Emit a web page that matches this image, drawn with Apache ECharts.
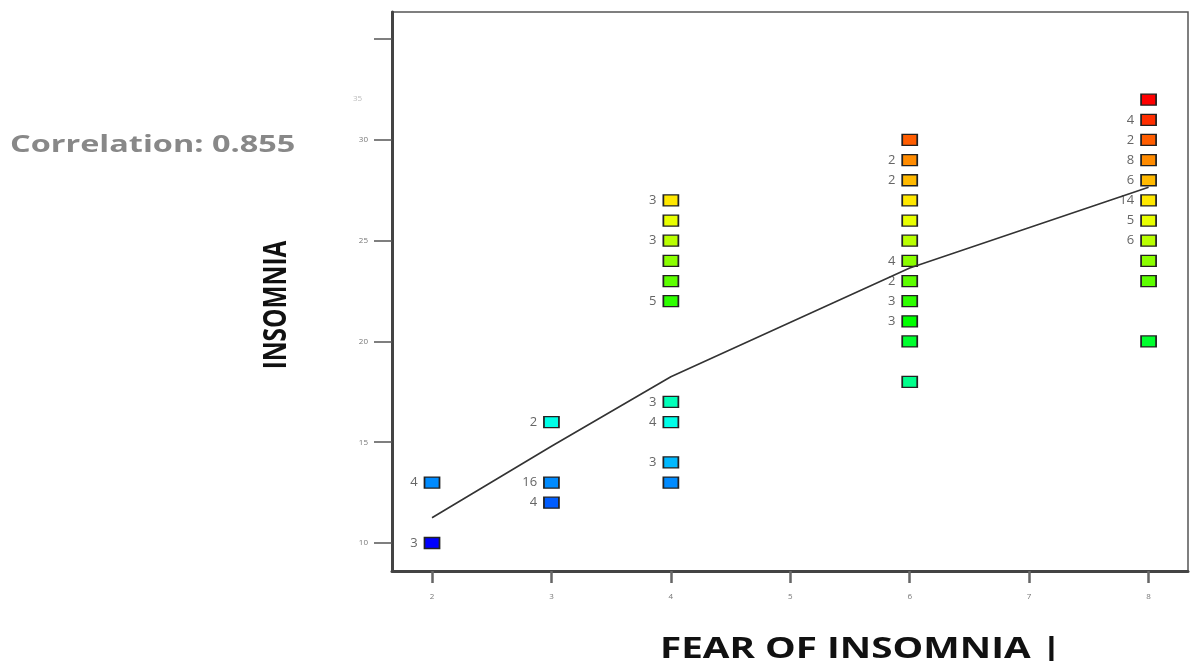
<!DOCTYPE html>
<html>
<head>
<meta charset="utf-8">
<script src="https://cdn.jsdelivr.net/npm/echarts@6/dist/echarts.min.js"></script>
<style>
html,body{margin:0;padding:0;background:#fff;}
#chart{width:1191px;height:661px;}
</style>
</head>
<body>
<div id="chart"></div>
<script>
// ---- data ----
const fearLevels = [2, 3, 4, 6, 8];
const insomniaAt2 = [13, 10];
const countsAt2   = [4, 3];
const insomniaAt3 = [16, 13, 12];
const countsAt3   = [2, 16, 4];
const insomniaAt4 = [27, 26, 25, 24, 23, 22, 17, 16, 14, 13];
const countsAt4   = [3, null, 3, null, null, 5, 3, 4, 3, null];
const insomniaAt6 = [30, 29, 28, 27, 26, 25, 24, 23, 22, 21, 20, 18];
const countsAt6   = [null, 2, 2, null, null, null, 4, 2, 3, 3, null, null];
const insomniaAt8 = [32, 31, 30, 29, 28, 27, 26, 25, 24, 23, 20];
const countsAt8   = [null, 4, 2, 8, 6, 14, 5, 6, null, null, null];
const fitX = [2, 3, 4, 6, 8];
const fitY = [11.25, 14.8, 18.25, 23.65, 27.65];
const xTickValues = [2, 3, 4, 5, 6, 7, 8];
const yTickValues = [10, 15, 20, 25, 30, 35];
const yLabelValues = [10, 15, 20, 25, 30];
const correlationText = 'Correlation: 0.855';
const xTitle = 'FEAR OF INSOMNIA |';
const yTitle = 'INSOMNIA';

// ---- build ----
const columns = [
  [insomniaAt2, countsAt2], [insomniaAt3, countsAt3], [insomniaAt4, countsAt4],
  [insomniaAt6, countsAt6], [insomniaAt8, countsAt8]
];
const points = [];
columns.forEach((col, i) => {
  col[0].forEach((v, j) => points.push([fearLevels[i], v, col[1][j]]));
});
const allY = points.map(p => p[1]);
const yLo = Math.min(...allY), yHi = Math.max(...allY);
const fitData = fitX.map((x, i) => [x, fitY[i]]);

const chart = echarts.init(document.getElementById('chart'), null, {renderer: 'canvas'});
chart.setOption({
  animation: false,
  backgroundColor: '#fff',
  grid: {left: 392, right: 3, top: 12, bottom: 90, show: true, borderColor: '#555', borderWidth: 1.5},
  xAxis: {
    type: 'value', min: 1.665, max: 8.33,
    axisLine: {show: true, onZero: false, lineStyle: {color: '#444', width: 3}},
    axisTick: {show: true, customValues: xTickValues, length: 12, lineStyle: {color: '#666', width: 2.5}},
    axisLabel: {customValues: xTickValues, fontSize: 8, color: '#777', margin: 22, fontFamily: 'Open Sans'},
    splitLine: {show: false}
  },
  yAxis: {
    type: 'value', min: 8.61, max: 36.35,
    axisLine: {show: true, onZero: false, lineStyle: {color: '#444', width: 3}},
    axisTick: {show: true, customValues: yTickValues, length: 18, lineStyle: {color: '#555', width: 1.5}},
    axisLabel: {customValues: yLabelValues, fontSize: 8, color: '#777', margin: 24, fontFamily: 'Open Sans'},
    splitLine: {show: false}
  },
  graphic: [
    {type: 'text', left: 353, top: 95, style: {text: '35', fill: '#bbb', font: '8px Open Sans'}},
    {type: 'text', x: 10, y: 145, scaleX: 1.41,
      style: {text: correlationText, fill: '#888', font: 'bold 23px Open Sans', textVerticalAlign: 'middle'}},
    {type: 'text', x: 660, y: 650, scaleX: 1.38,
      style: {text: xTitle, fill: '#111', font: 'bold 28px Open Sans', textVerticalAlign: 'middle'}},
    {type: 'text', x: 277, y: 305, rotation: Math.PI / 2, scaleX: 0.74,
      style: {text: yTitle, fill: '#111', font: 'bold 33px Open Sans', textAlign: 'center', textVerticalAlign: 'middle'}}
  ],
  series: [
    {
      type: 'line', data: fitData, showSymbol: false, symbol: 'none', z: 3,
      lineStyle: {color: '#333', width: 1.6}
    },
    {
      type: 'scatter', data: points, symbol: 'rect', symbolSize: [15, 11], z: 2,
      itemStyle: {
        color: p => 'hsl(' + (240 * (yHi - p.value[1]) / (yHi - yLo)) + ',100%,50%)',
        borderColor: '#222', borderWidth: 1.5, opacity: 1
      },
      emphasis: {disabled: true},
      label: {
        show: true, position: 'left', distance: 6, fontSize: 13, color: '#666', fontFamily: 'Open Sans',
        formatter: p => (p.value[2] == null ? '' : String(p.value[2]))
      }
    }
  ]
});
</script>
</body>
</html>
